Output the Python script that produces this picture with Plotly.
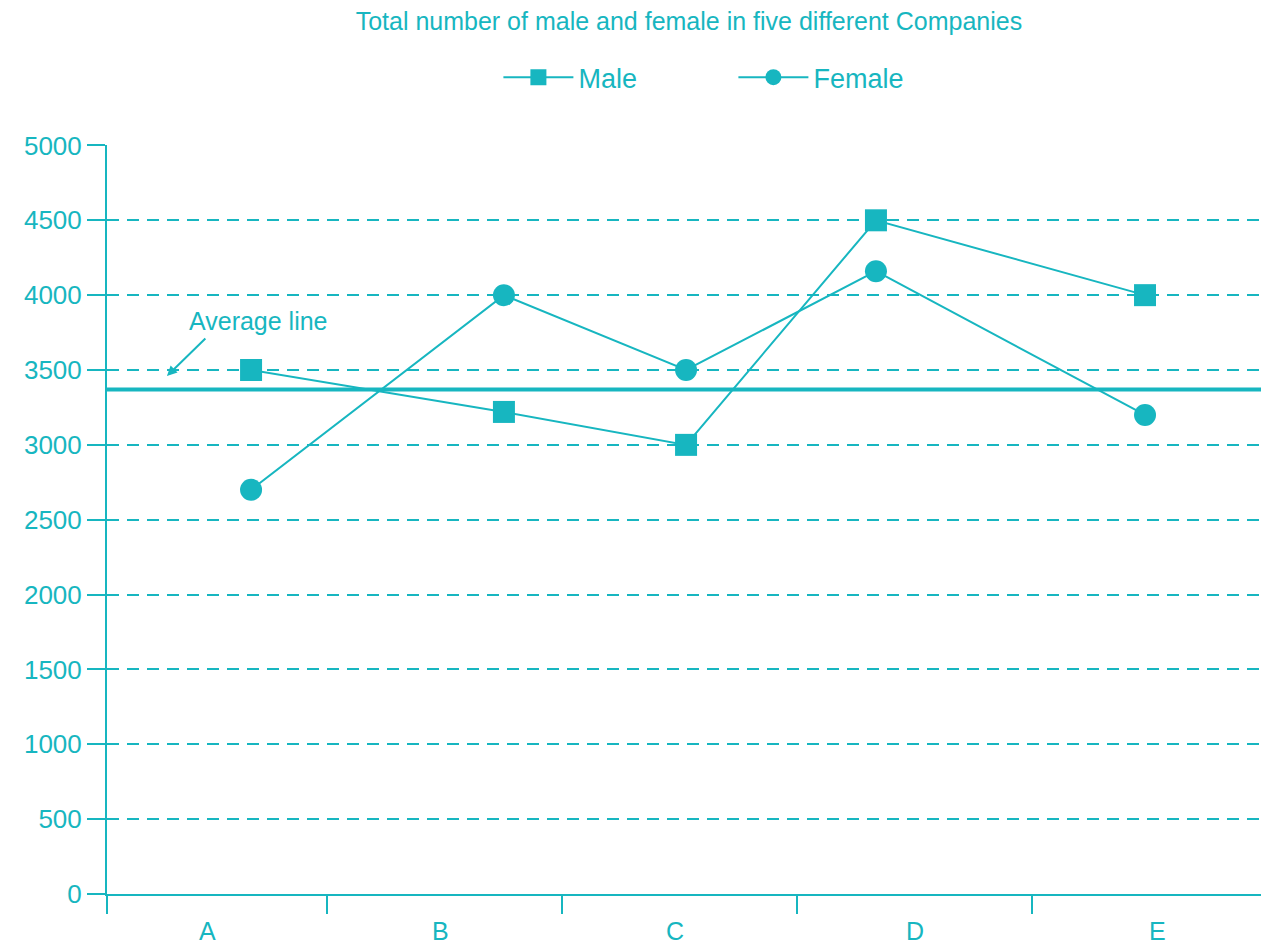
import plotly.graph_objects as go

C = "#17b6c0"
categories = ["A", "B", "C", "D", "E"]
male = [3500, 3220, 3000, 4500, 4000]
female = [2700, 4000, 3500, 4160, 3200]
average = 3370
# x positions of points (in category-width units from axis origin)
male_x = [0.613, 1.689, 2.464, 3.272, 4.417]
female_x = [0.613, 1.689, 2.464, 3.272, 4.417]
boundaries = [0, 0.936, 1.936, 2.936, 3.936, 4.936]
label_x = [0.426, 1.421, 2.417, 3.438, 4.468]
yticks = [0, 500, 1000, 1500, 2000, 2500, 3000, 3500, 4000, 4500, 5000]

fig = go.Figure()
fig.add_trace(go.Scatter(x=male_x, y=male, name="Male", mode="lines+markers",
                         line=dict(color=C, width=2), marker=dict(symbol="square", size=22, color=C)))
fig.add_trace(go.Scatter(x=female_x, y=female, name="Female", mode="lines+markers",
                         line=dict(color=C, width=2), marker=dict(symbol="circle", size=22, color=C)))
fig.add_shape(type="line", xref="paper", x0=0, x1=1, y0=average, y1=average, line=dict(color=C, width=4))
for c, lx in zip(categories, label_x):
    fig.add_annotation(x=lx, y=0, yshift=-37, text=c, showarrow=False, font=dict(size=25, color=C))
fig.add_annotation(x=0.255, y=average + 90, ax=0.425, ay=3720, axref="x", ayref="y",
                   text="", showarrow=True, arrowhead=2, arrowsize=1, arrowwidth=2, arrowcolor=C)
fig.add_annotation(x=0.34, y=3720, text="Average line", showarrow=False, xanchor="left", yanchor="bottom",
                   font=dict(size=25, color=C))

fig.update_layout(
    width=1261, height=934, plot_bgcolor="white", paper_bgcolor="white",
    margin=dict(l=99, r=2, t=137, b=48),
    font=dict(family="Liberation Sans, Arial", color=C, size=24),
    title=dict(text="Total number of male and female in five different Companies", x=0.54, xanchor="center",
               y=0.995, yanchor="top", font=dict(size=25, color=C)),
    legend=dict(orientation="h", x=0.54, xanchor="center", y=1.09, yanchor="middle", font=dict(size=27, color=C),
                itemwidth=70, entrywidth=150),
    showlegend=True,
)
fig.update_xaxes(range=[0, 4.936], tickvals=boundaries, ticktext=[""] * 6, ticks="outside", ticklen=18,
                 tickcolor=C, tickwidth=2, showline=True, linecolor=C, linewidth=2, showgrid=False, zeroline=False)
fig.update_yaxes(range=[0, 5003], tickvals=yticks, ticks="outside", ticklen=18, tickcolor=C, tickwidth=2,
                 showline=True, linecolor=C, linewidth=2, showgrid=True, gridcolor=C, griddash="12px,8px",
                 gridwidth=2, zeroline=False, tickfont=dict(size=26, color=C))
fig.write_html("out.html")
